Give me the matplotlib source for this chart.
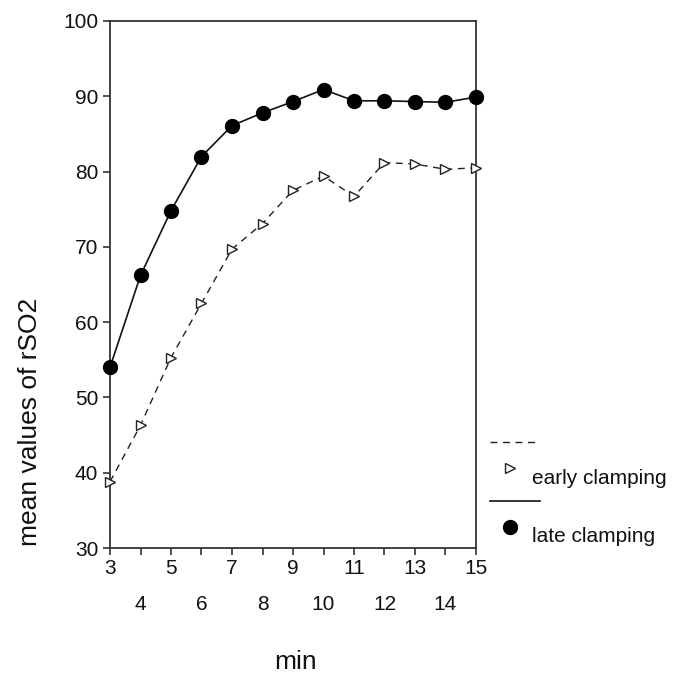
import matplotlib.pyplot as plt
from matplotlib.lines import Line2D

plt.rcParams['font.family'] = ['Liberation Sans', 'DejaVu Sans']

minutes = [3, 4, 5, 6, 7, 8, 9, 10, 11, 12, 13, 14, 15]
early = [38.8, 46.3, 55.3, 62.5, 69.7, 73.1, 77.5, 79.4, 76.7, 81.2, 81.0, 80.3, 80.5]
late = [54.0, 66.2, 74.8, 82.0, 86.1, 87.8, 89.3, 90.9, 89.4, 89.4, 89.3, 89.2, 89.9]
odd_ticks = [3, 5, 7, 9, 11, 13, 15]
even_ticks = [4, 6, 8, 10, 12, 14]

fig = plt.figure(figsize=(6.78, 6.78), dpi=100)
ax = fig.add_axes([110 / 678, 1 - 548 / 678, 366 / 678, 527 / 678])

ax.plot(minutes, early, color='#222222', lw=1.0, ls=(0, (5, 4)),
        marker='>', ms=7, mfc='white', mec='#222222', mew=1.0, clip_on=False, zorder=3)
ax.plot(minutes, late, color='#111111', lw=1.2, ls='-',
        marker='o', ms=10, mfc='black', mec='black', clip_on=False, zorder=4)

ax.set_xlim(3, 15)
ax.set_ylim(30, 100)
ax.set_yticks(range(30, 101, 10))
ax.set_xticks(odd_ticks)
ax.set_xticks(even_ticks, minor=True)
ax.set_xticklabels([str(t) for t in odd_ticks])
ax.set_xticklabels([str(t) for t in even_ticks], minor=True)
ax.tick_params(axis='both', which='both', direction='out', length=5, width=1.2,
               labelsize=15, color='#333333', labelcolor='#111111')
ax.tick_params(axis='x', which='major', pad=3)
ax.tick_params(axis='x', which='minor', pad=29)
for s in ax.spines.values():
    s.set_linewidth(1.3)
    s.set_color('#333333')

fig.text(30 / 678, 1 - 422 / 678, 'mean values of rSO2', rotation=90,
         ha='center', va='center', fontsize=19, color='#111111')
fig.text(296 / 678, 1 - 662 / 678, 'min', ha='center', va='center', fontsize=19,
         color='#111111')

# legend drawn by hand, below the right side
fig.add_artist(Line2D([490 / 678, 540 / 678], [1 - 442 / 678] * 2, color='#222222',
                      lw=1.0, ls=(0, (5, 4))))
fig.add_artist(Line2D([510 / 678], [1 - 468 / 678], marker='>', ms=7, mfc='white',
                      mec='#222222', mew=1.0, ls='none'))
fig.text(532 / 678, 1 - 478 / 678, 'early clamping', va='center', fontsize=15,
         color='#111111')
fig.add_artist(Line2D([490 / 678, 540 / 678], [1 - 501 / 678] * 2, color='#111111', lw=1.2))
fig.add_artist(Line2D([510 / 678], [1 - 527 / 678], marker='o', ms=10, mfc='black',
                      mec='black', ls='none'))
fig.text(532 / 678, 1 - 537 / 678, 'late clamping', va='center', fontsize=15,
         color='#111111')

fig.savefig('out.png', dpi=100)
